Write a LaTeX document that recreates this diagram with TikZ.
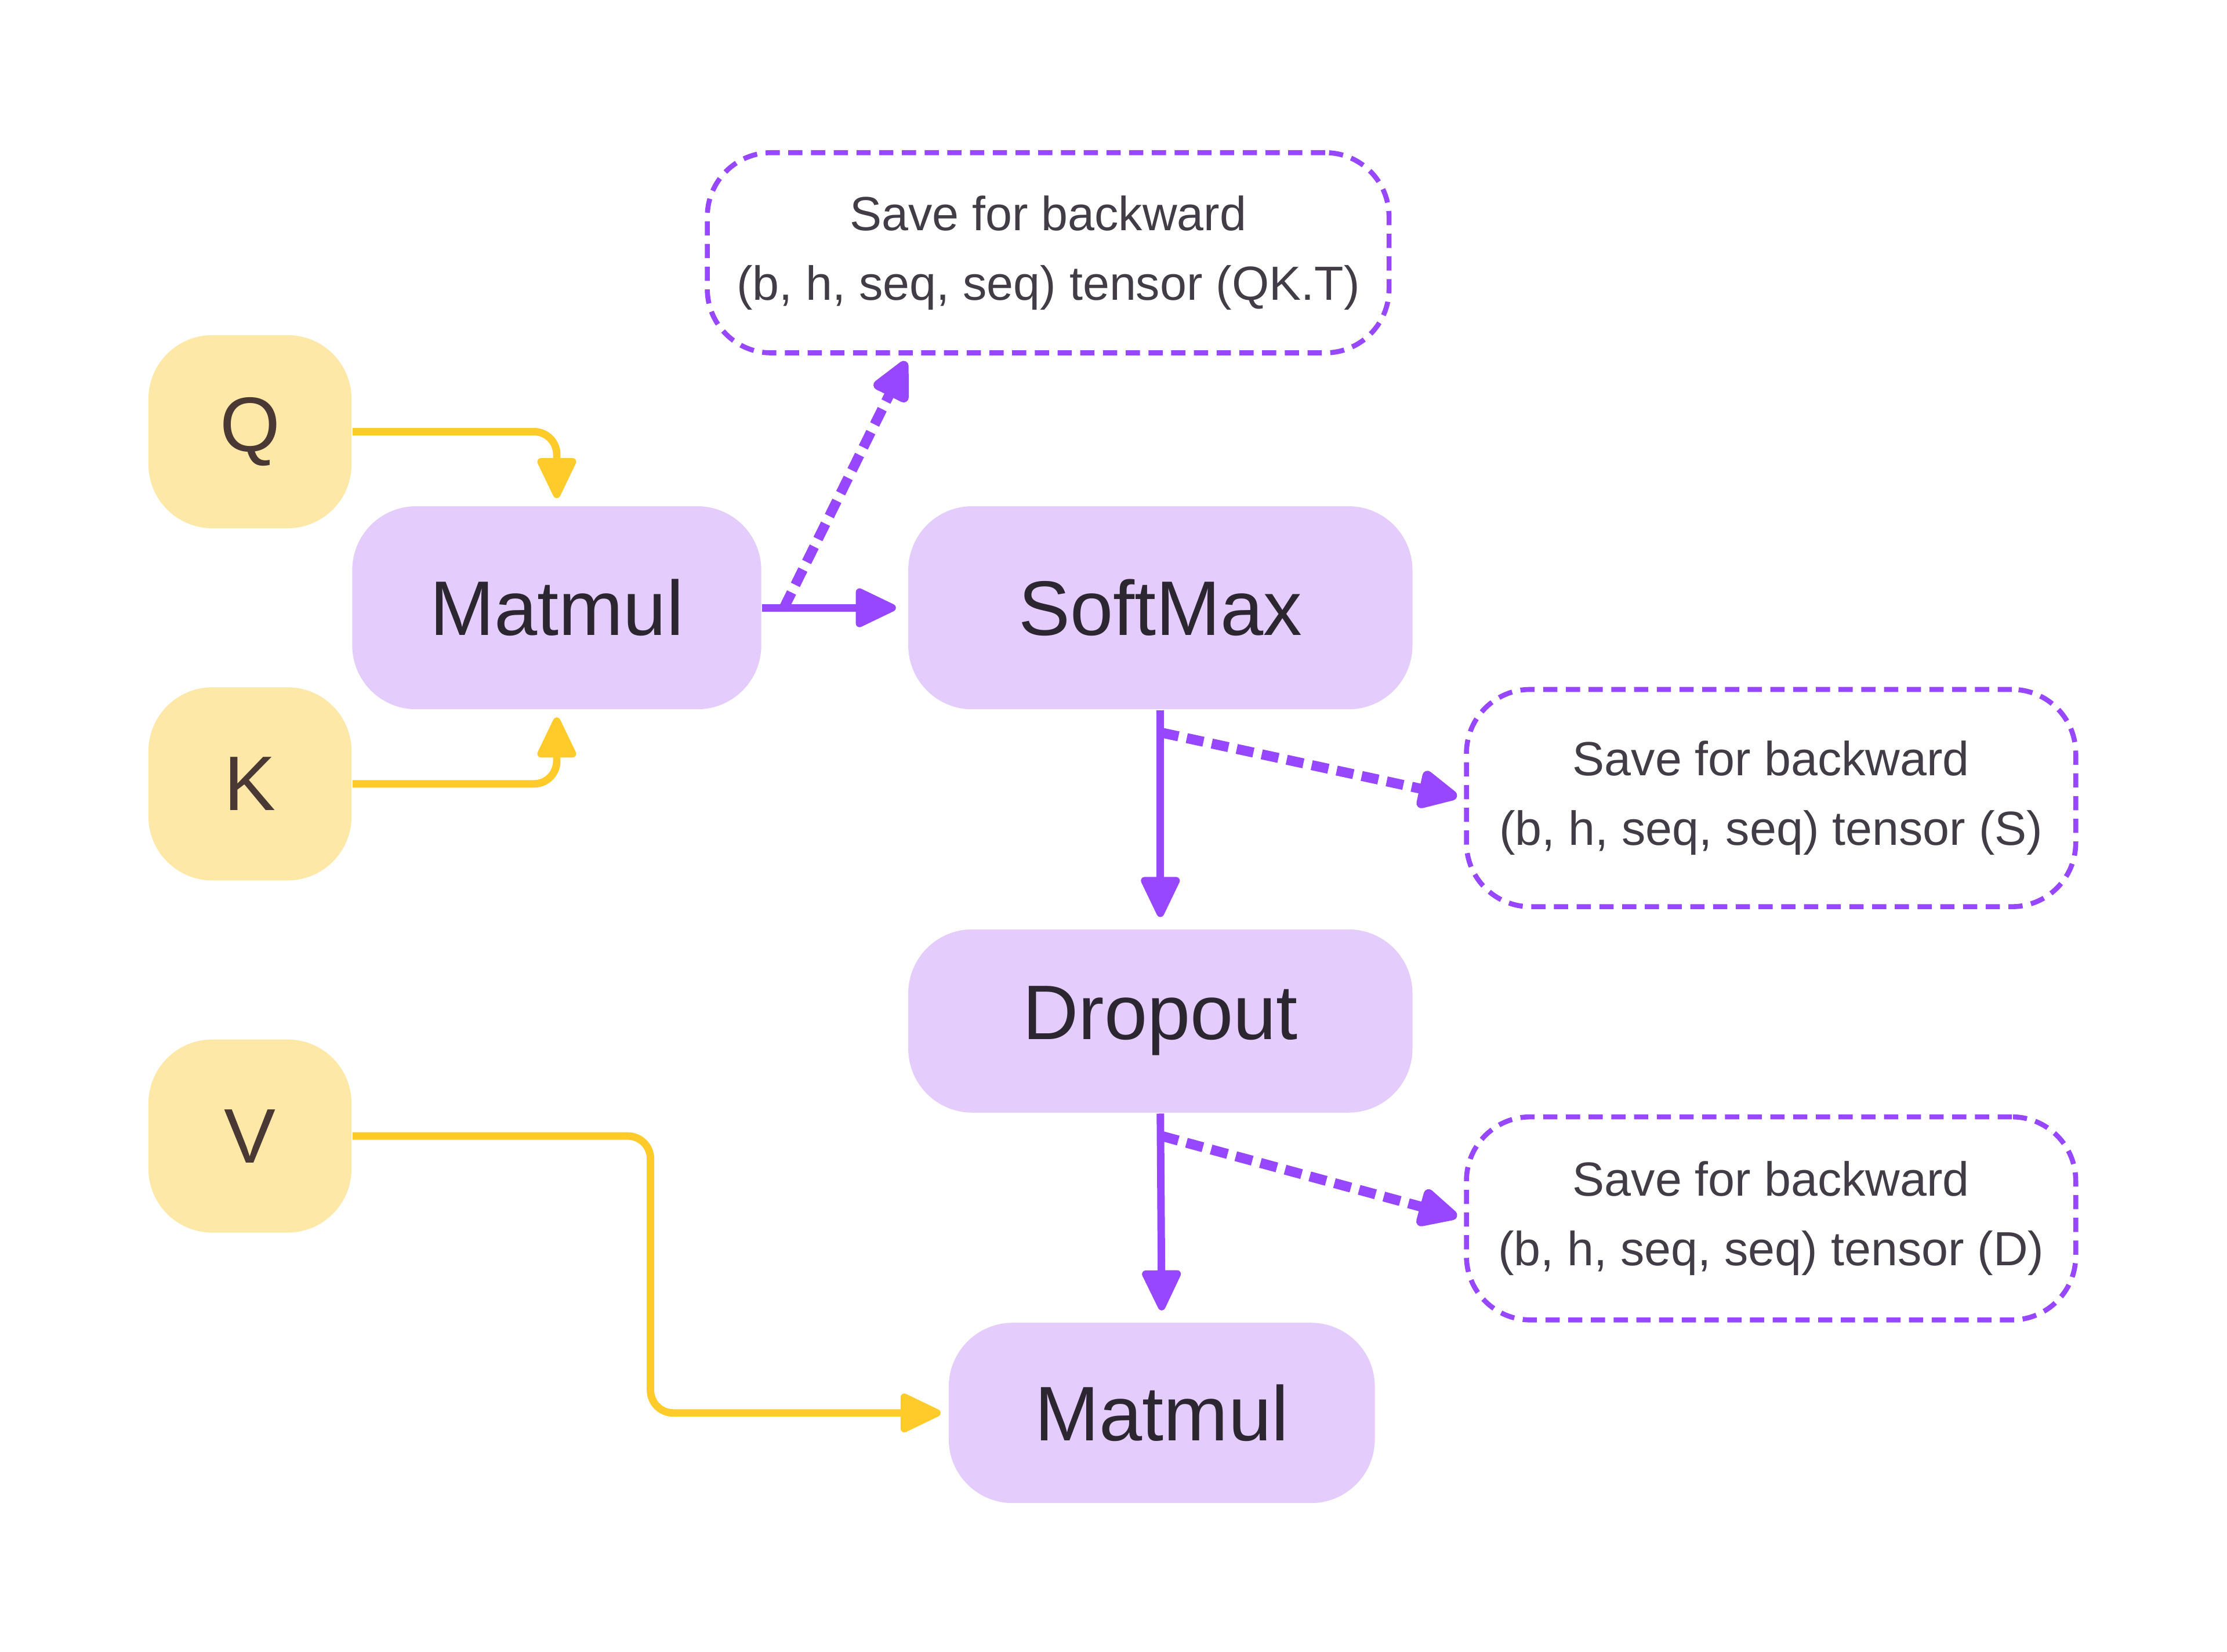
\documentclass[tikz,border=0pt]{standalone}
\usepackage{fontspec}
\setmainfont{Liberation Sans}
\usetikzlibrary{arrows.meta}
\definecolor{lila}{HTML}{9747FF}
\definecolor{lilahell}{HTML}{E4CCFD}
\definecolor{gelb}{HTML}{FFCB2B}
\definecolor{gelbhell}{HTML}{FEE8A8}
\definecolor{schrift}{HTML}{2C2630}
\tikzset{%
		op/.style={fill=lilahell,rounded corners=4.5mm,minimum height=14.3mm,text=schrift,font=\fontsize{15.5}{18}\selectfont},
		eingabe/.style={fill=gelbhell,rounded corners=4.5mm,minimum width=14.3mm,minimum height=13.6mm,text=schrift!80!brown,font=\fontsize{15.5}{18}\selectfont},
		speicher/.style={draw=lila,line width=1pt,dash pattern=on 1mm off 0.6mm,rounded corners=4.5mm,align=center,text=schrift!90,font=\fontsize{9.6}{14}\selectfont},
		spitze/.style={-{Triangle[length=3.2mm,width=2.9mm,round]}},
		fluss/.style={draw=lila,line width=1.5pt,spitze,shorten >=0.8mm},
		sichern/.style={draw=lila,line width=2pt,dash pattern=on 1.2mm off 0.6mm,spitze,shorten >=0.5mm},
		zufluss/.style={draw=gelb,line width=1.5pt,spitze,rounded corners=1.6mm,shorten >=0.5mm}
	}

\begin{document}
\begin{tikzpicture}[x=0.1mm,y=-0.1mm]
	\useasboundingbox (0,0) rectangle (1568,1163);
	% Eingaben
	\node[eingabe] (q) at (176,304) {Q};
	\node[eingabe] (k) at (176,552) {K};
	\node[eingabe] (v) at (176,800) {V};
	% Operationen
	\node[op,minimum width=28.8mm] (mm1) at (392,428) {Matmul};
	\node[op,minimum width=35.5mm] (sm) at (817,428) {SoftMax};
	\node[op,minimum width=35.5mm,minimum height=12.9mm] (dr) at (817,719) {Dropout};
	\node[op,minimum width=30mm,minimum height=12.7mm] (mm2) at (818,995) {Matmul};
	% Gespeicherte Tensoren
	\node[speicher,minimum width=48mm,minimum height=14.1mm] (s1) at (738,178) {Save for backward\\(b, h, seq, seq) tensor (QK.T)};
	\node[speicher,minimum width=42.9mm,minimum height=15.3mm] (s2) at (1247,562) {Save for backward\\(b, h, seq, seq) tensor (S)};
	\node[speicher,minimum width=42.9mm,minimum height=14.3mm] (s3) at (1247,858) {Save for backward\\(b, h, seq, seq) tensor (D)};

	\coordinate (ab1) at (552,428);
	\coordinate (an1) at (640,250);
	\coordinate (ab2) at (818,516);
	\coordinate (ab3) at (818,800);
	\coordinate (knick) at (458,900);

	\draw[zufluss] (q.east) -| (mm1.north);
	\draw[zufluss] (k.east) -| (mm1.south);
	\draw[zufluss] (v.east) -| (knick) |- (mm2.west);

	\draw[fluss] (mm1.east) -- (sm.west);
	\draw[fluss] (sm.south) -- (dr.north);
	\draw[fluss] (dr.south) -- (mm2.north);

	\draw[sichern] (ab1) -- (an1);
	\draw[sichern] (ab2) -- (s2.west);
	\draw[sichern] (ab3) -- (s3.west);
\end{tikzpicture}
\end{document}
